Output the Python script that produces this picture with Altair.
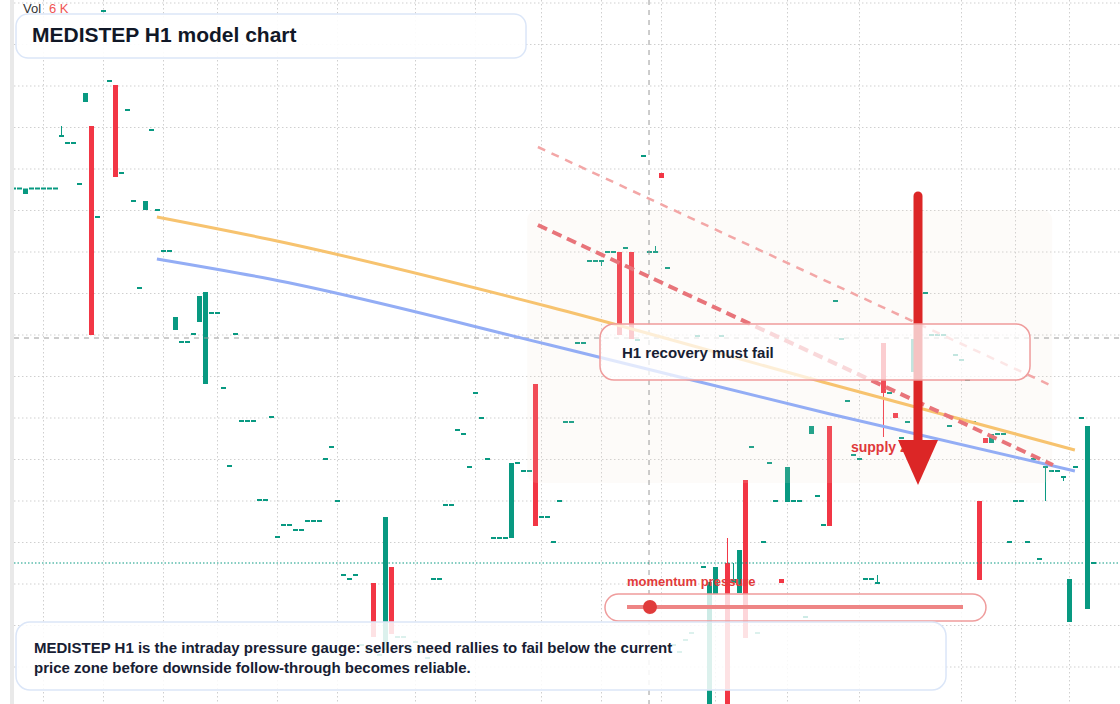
import altair as alt
import pandas as pd

# ---------------- candle data (price units) ----------------
candle_open = [
    61.05, 61.05, 60.6, 61.05, 61.05, 61.05, 61.05, 61.05, 66.3, 65.6,
    65.6, 61.5, 69.8, 67.4, 58.2, 78.8, 71.8, 71.5, 62.6, 68.9,
    59.8, 51.1, 59.0, 66.9, 58.9, 54.8, 54.8, 47.0, 45.7, 45.7,
    46.5, 47.8, 41.6, 48.6, 48.6, 41.1, 33.3, 46.5, 37.8, 37.8,
    37.8, 29.9, 29.9, 38.2, 26.2, 27.4, 27.4, 26.9, 26.9, 27.8,
    27.8, 27.8, 34.0, 35.2, 29.8, 22.4, 22.0, 22.4, 15.4, 14.9,
    21.7, 14.4, 15.0, 23.3, 16.2, 16.2, 15.1, 15.7, 14.7, 14.1,
    22.0, 22.0, 29.4, 29.4, 36.9, 36.5, 33.2, 40.6, 38.1, 34.0,
    26.1, 26.1, 26.1, 26.2, 33.6, 32.8, 32.8, 41.6, 28.2, 28.2,
    25.7, 29.8, 37.7, 37.7, 45.6, 45.6, 53.8, 53.8, 53.8, 54.7,
    54.7, 54.8, 55.1, 54.8, 45.9, 64.3, 54.7, 54.7, 62.7, 53.1,
    15.4, 14.7, 15.9, 16.6, 46.3, 23.2, 7.0, 20.6, 46.3, 23.7,
    21.7, 20.7, 32.0, 35.2, 16.6, 25.7, 33.6, 29.8, 22.1, 29.8,
    29.8, 29.8, 18.2, 36.6, 30.3, 27.4, 37.4, 49.8, 46.0, 39.8,
    34.4, 34.0, 22.0, 22.0, 21.6, 45.7, 40.6, 38.7, 36.1, 37.7,
    42.8, 49.9, 50.6, 46.4, 46.4, 46.4, 37.3, 44.4, 43.9, 41.9,
    37.7, 29.9, 36.2, 35.7, 36.5, 36.5, 25.7, 29.8, 29.8, 25.7,
    34.0, 24.0, 33.2, 32.8, 32.8, 32.2, 17.8, 33.2, 38.1, 19.1,
    23.6,
]
candle_close = [
    61.25, 61.25, 61.15, 61.25, 61.25, 61.25, 61.25, 61.25, 66.5, 65.8,
    65.8, 61.7, 70.7, 46.5, 58.4, 79.0, 72.0, 62.3, 62.8, 69.1,
    60.0, 51.3, 59.9, 67.1, 59.1, 55.0, 55.0, 48.3, 45.9, 45.9,
    46.7, 50.4, 50.8, 48.8, 48.8, 41.3, 33.5, 46.7, 38.0, 38.0,
    38.0, 30.1, 30.1, 38.4, 26.4, 27.6, 27.6, 27.1, 27.1, 28.0,
    28.0, 28.0, 34.2, 35.4, 30.0, 22.6, 22.2, 22.6, 15.6, 15.1,
    16.3, 14.6, 28.3, 16.6, 16.4, 16.4, 15.3, 15.9, 14.9, 14.3,
    22.2, 22.2, 29.6, 29.6, 37.1, 36.7, 33.4, 40.8, 38.3, 34.2,
    26.3, 26.3, 26.3, 33.7, 33.8, 33.0, 33.0, 27.4, 28.4, 28.4,
    25.9, 30.0, 37.9, 37.9, 45.8, 45.8, 54.0, 54.0, 54.0, 54.9,
    54.9, 46.5, 55.3, 46.1, 46.1, 64.5, 54.9, 54.9, 62.2, 53.3,
    15.6, 14.9, 16.1, 16.8, 46.5, 23.4, 21.8, 23.3, 46.5, 7.0,
    22.1, 25.0, 16.2, 35.4, 16.8, 25.9, 33.8, 30.0, 21.7, 33.3,
    30.0, 30.0, 18.4, 37.4, 30.5, 27.6, 27.4, 50.0, 46.2, 40.0,
    34.6, 34.2, 22.2, 22.2, 21.8, 40.7, 40.8, 38.2, 36.3, 37.9,
    46.1, 50.1, 50.8, 46.6, 46.6, 46.6, 37.5, 44.6, 44.1, 42.1,
    37.9, 22.0, 35.7, 36.6, 36.7, 36.7, 25.9, 30.0, 30.0, 25.9,
    34.2, 24.2, 33.4, 33.0, 33.0, 32.4, 22.1, 33.4, 38.3, 37.4,
    23.8,
]
candle_index = list(range(len(candle_open)))

# visible wicks
wick_idx = [8, 98, 107, 119, 120, 144, 145, 172, 175]
wick_high = [67.4, 54.0, 55.4, 26.2, 23.7, 22.5, 45.7, 33.4, 32.4]
wick_low = [66.3, 53.4, 54.9, 7.0, 21.7, 21.6, 36.3, 29.9, 31.9]

# grid
grid_prices = [79.7, 75.55, 71.4, 67.25, 63.1, 58.95, 54.8, 50.65, 46.5,
               42.35, 38.2, 34.05, 29.9, 25.75, 21.6, 17.45, 13.3]
grid_indices = [5, 15, 25, 34, 44, 54, 67, 77, 88, 98, 108, 117, 129, 141,
                158, 167, 176]

# overlays
ma_idx = [23.9, 42.75, 89.4, 136.1, 176.9]
orange_price = [58.3, 56.05, 49.3, 41.6, 35.0]
blue_price = [54.1, 52.1, 45.5, 38.6, 32.9]
pink_idx = [87.4, 173.1]
pink_price = [65.3, 41.4]
reddash_idx = [87.4, 173.25]
reddash_price = [57.5, 33.5]

crosshair_idx = 105.92
crosshair_price = 46.2
last_price = 23.7

X_DOMAIN = [-2.25, 184.4167]
Y_DOMAIN = [9.6, 80.0]

xs = alt.Scale(domain=X_DOMAIN, nice=False, zero=False, padding=0)
ys = alt.Scale(domain=Y_DOMAIN, nice=False, zero=False, padding=0)

GREEN = "#089981"
RED = "#f23645"
FONT = "Liberation Sans"


def X(f):
    return alt.X(f"{f}:Q", scale=xs, axis=None)


def Y(f):
    return alt.Y(f"{f}:Q", scale=ys, axis=None)


color_enc = alt.Color("dir:N", scale=alt.Scale(domain=["up", "down"], range=[GREEN, RED]), legend=None)

candles = pd.DataFrame({"i": candle_index, "open": candle_open, "close": candle_close})
candles["dir"] = ["up" if c >= o else "down" for o, c in zip(candle_open, candle_close)]

wicks = pd.DataFrame({"i": wick_idx, "hi": wick_high, "lo": wick_low})
wicks["dir"] = [candles.loc[k, "dir"] for k in wick_idx]

hgrid = pd.DataFrame({"y": grid_prices, "x": 0.08, "x2": X_DOMAIN[1]})
vgrid = pd.DataFrame({"x": grid_indices})

layers = []

layers.append(alt.Chart(hgrid).mark_rule(color="#cfcfcf", strokeWidth=1, strokeDash=[1.5, 2.5]).encode(
    x=X("x"), x2="x2:Q", y=Y("y")))
layers.append(alt.Chart(vgrid).mark_rule(color="#cfcfcf", strokeWidth=1, strokeDash=[1.5, 2.5]).encode(
    x=X("x"), y=alt.value(0), y2=alt.value(704)))

# candles
layers.append(alt.Chart(wicks).mark_rule(strokeWidth=1, clip=True).encode(
    x=X("i"), y=Y("hi"), y2="lo:Q", color=color_enc))
layers.append(alt.Chart(candles).mark_bar(size=5, clip=True).encode(
    x=X("i"), y=Y("open"), y2="close:Q", color=color_enc))

# supply zone shading
zone = pd.DataFrame({"x": [85.6], "x2": [173.1], "y": [59.0], "y2": [31.7]})
layers.append(alt.Chart(zone).mark_rect(cornerRadius=10, fill="#f3e2d2", fillOpacity=0.13).encode(
    x=X("x"), x2="x2:Q", y=Y("y"), y2="y2:Q"))

# crosshair and price line
layers.append(alt.Chart(pd.DataFrame({"y": [crosshair_price], "x": [0.08], "x2": [X_DOMAIN[1]]})).mark_rule(
    color="#9a9a9a", strokeWidth=1, strokeDash=[5, 5]).encode(x=X("x"), x2="x2:Q", y=Y("y")))
layers.append(alt.Chart(pd.DataFrame({"x": [crosshair_idx]})).mark_rule(
    color="#9a9a9a", strokeWidth=1, strokeDash=[5, 5]).encode(x=X("x"), y=alt.value(0), y2=alt.value(704)))
layers.append(alt.Chart(pd.DataFrame({"y": [last_price], "x": [0.08], "x2": [X_DOMAIN[1]]})).mark_rule(
    color=GREEN, strokeWidth=1.2, strokeDash=[1.5, 2]).encode(x=X("x"), x2="x2:Q", y=Y("y")))

# moving averages
layers.append(alt.Chart(pd.DataFrame({"x": ma_idx, "y": orange_price})).mark_line(
    color="#f7c36f", strokeWidth=3, interpolate="monotone").encode(x=X("x"), y=Y("y")))
layers.append(alt.Chart(pd.DataFrame({"x": ma_idx, "y": blue_price})).mark_line(
    color="#93adf5", strokeWidth=3, interpolate="monotone").encode(x=X("x"), y=Y("y")))
# dashed trend lines
layers.append(alt.Chart(pd.DataFrame({"x": pink_idx, "y": pink_price})).mark_line(
    color="#f3a7a7", strokeWidth=2.5, strokeDash=[8, 7]).encode(x=X("x"), y=Y("y")))
layers.append(alt.Chart(pd.DataFrame({"x": reddash_idx, "y": reddash_price})).mark_line(
    color="#e8747a", strokeWidth=4, strokeDash=[10, 6]).encode(x=X("x"), y=Y("y")))

# supply zone label
layers.append(alt.Chart(pd.DataFrame({"x": [139.58], "y": [35.2], "t": ["supply zone"]})).mark_text(
    align="left", baseline="middle", font=FONT, fontSize=14, fontWeight="bold", color="#e0383b").encode(
    x=X("x"), y=Y("y"), text="t:N"))

# arrow
arrow = pd.DataFrame({"x": [150.75], "y": [60.4], "y2": [35.5], "head": [36.0]})
layers.append(alt.Chart(arrow).mark_rule(color="#dc2626", strokeWidth=9, strokeCap="round").encode(
    x=X("x"), y=Y("y"), y2="y2:Q"))
layers.append(alt.Chart(arrow).mark_point(
    shape="M -1 0 L 1 0 L 0 2.25 Z", size=1600, filled=True, color="#dc2626", opacity=1).encode(
    x=X("x"), y=Y("head")))

# recovery box
rbox = pd.DataFrame({"x": [97.75], "x2": [169.42], "y": [47.6], "y2": [42.0]})
layers.append(alt.Chart(rbox).mark_rect(cornerRadius=14, fill="white", fillOpacity=0.72,
                                        stroke="#ef9c9c", strokeWidth=1.5).encode(
    x=X("x"), x2="x2:Q", y=Y("y"), y2="y2:Q"))
layers.append(alt.Chart(pd.DataFrame({"x": [101.42], "y": [44.7], "t": ["H1 recovery must fail"]})).mark_text(
    align="left", baseline="middle", font=FONT, fontSize=15, fontWeight="bold", color="#172033").encode(
    x=X("x"), y=Y("y"), text="t:N"))

# momentum gauge
pill = pd.DataFrame({"x": [98.58], "x2": [162.08], "y": [20.6], "y2": [17.9]})
layers.append(alt.Chart(pill).mark_rect(cornerRadius=13.5, fill="white", fillOpacity=0.8,
                                        stroke="#ef9c9c", strokeWidth=1.5).encode(
    x=X("x"), x2="x2:Q", y=Y("y"), y2="y2:Q"))
gauge = pd.DataFrame({"x": [102.25], "x2": [158.25], "y": [19.3], "dot": [106.08]})
layers.append(alt.Chart(gauge).mark_rule(color="#ee8585", strokeWidth=4).encode(
    x=X("x"), x2="x2:Q", y=Y("y")))
layers.append(alt.Chart(gauge).mark_point(shape="circle", size=196, filled=True, color="#e03b3b", opacity=1).encode(
    x=X("dot"), y=Y("y")))
layers.append(alt.Chart(pd.DataFrame({"x": [102.25], "y": [21.8], "t": ["momentum pressure"]})).mark_text(
    align="left", baseline="middle", font=FONT, fontSize=13, fontWeight="bold", color="#e23b3b").encode(
    x=X("x"), y=Y("y"), text="t:N"))

# bottom note box
nbox = pd.DataFrame({"x": [0.42], "x2": [155.42], "y": [17.8], "y2": [11.0]})
layers.append(alt.Chart(nbox).mark_rect(cornerRadius=14, fill="white", fillOpacity=0.86,
                                        stroke="#dbe6f8", strokeWidth=1.5).encode(
    x=X("x"), x2="x2:Q", y=Y("y"), y2="y2:Q"))
note_lines = pd.DataFrame({
    "x": [3.42, 3.42], "y": [15.2, 13.2],
    "t": ["MEDISTEP H1 is the intraday pressure gauge: sellers need rallies to fail below the current",
          "price zone before downside follow-through becomes reliable."]})
layers.append(alt.Chart(note_lines).mark_text(
    align="left", baseline="middle", font=FONT, fontSize=15, fontWeight="bold", color="#172033").encode(
    x=X("x"), y=Y("y"), text="t:N"))

# title box
tbox = pd.DataFrame({"x": [0.42], "x2": [85.42], "y": [78.6], "y2": [74.2]})
layers.append(alt.Chart(tbox).mark_rect(cornerRadius=12, fill="white", fillOpacity=0.92,
                                        stroke="#dbe6f8", strokeWidth=1.5).encode(
    x=X("x"), x2="x2:Q", y=Y("y"), y2="y2:Q"))
layers.append(alt.Chart(pd.DataFrame({"x": [3.08], "y": [76.4], "t": ["MEDISTEP H1 model chart"]})).mark_text(
    align="left", baseline="middle", font=FONT, fontSize=21, fontWeight="bold", color="#111827").encode(
    x=X("x"), y=Y("y"), text="t:N"))

# volume legend
layers.append(alt.Chart(pd.DataFrame({"x": [1.58], "y": [79.1], "t": ["Vol"]})).mark_text(
    align="left", baseline="middle", font=FONT, fontSize=13, color="#333333").encode(
    x=X("x"), y=Y("y"), text="t:N"))
layers.append(alt.Chart(pd.DataFrame({"x": [5.92], "y": [79.1], "t": ["6 K"]})).mark_text(
    align="left", baseline="middle", font=FONT, fontSize=13, color="#f05454").encode(
    x=X("x"), y=Y("y"), text="t:N"))

# left edge strip
layers.append(alt.Chart(pd.DataFrame({"x": [-0.583], "x2": [0.083]})).mark_rect(color="#e9e9e9").encode(
    x=X("x"), x2="x2:Q", y=alt.value(0), y2=alt.value(704)))

chart = alt.layer(*layers).properties(
    width=1120, height=704, padding=0,
    autosize=alt.AutoSizeParams(type="none"),
    background="white",
).configure_view(stroke=None)

chart.save("out.html", embed_options={"renderer": "svg", "actions": False})
